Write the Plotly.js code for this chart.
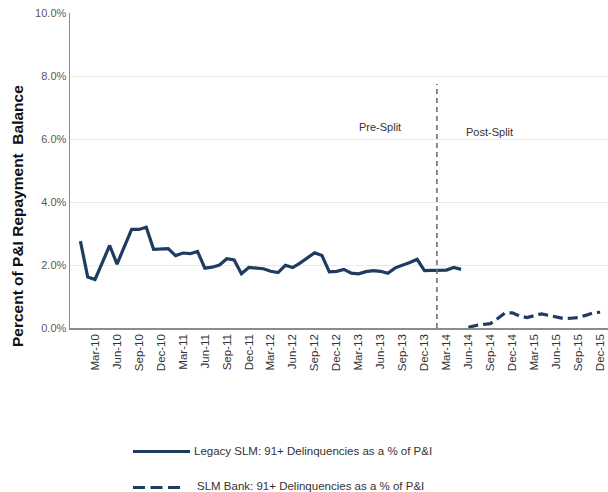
<!DOCTYPE html>
<html>
<head>
<meta charset="utf-8">
<script src="https://cdn.plot.ly/plotly-3.0.1.min.js"></script>
<style>html,body{margin:0;padding:0;background:#fff;overflow:hidden}#chart{width:608px;height:492px}</style>
</head>
<body>
<div id="chart"></div>
<script>
const months = [
  'Jan-10','Feb-10','Mar-10','Apr-10','May-10','Jun-10','Jul-10','Aug-10','Sep-10','Oct-10','Nov-10','Dec-10',
  'Jan-11','Feb-11','Mar-11','Apr-11','May-11','Jun-11','Jul-11','Aug-11','Sep-11','Oct-11','Nov-11','Dec-11',
  'Jan-12','Feb-12','Mar-12','Apr-12','May-12','Jun-12','Jul-12','Aug-12','Sep-12','Oct-12','Nov-12','Dec-12',
  'Jan-13','Feb-13','Mar-13','Apr-13','May-13','Jun-13','Jul-13','Aug-13','Sep-13','Oct-13','Nov-13','Dec-13',
  'Jan-14','Feb-14','Mar-14','Apr-14','May-14','Jun-14','Jul-14','Aug-14','Sep-14','Oct-14','Nov-14','Dec-14',
  'Jan-15','Feb-15','Mar-15','Apr-15','May-15','Jun-15','Jul-15','Aug-15','Sep-15','Oct-15','Nov-15','Dec-15'
];
const legacyMonths = months.slice(0, 53);   // Jan-10 .. May-14
const bankMonths = months.slice(53);         // Jun-14 .. Dec-15

const legacySLM = [
  2.76, 1.62, 1.54, 2.08, 2.62, 2.03, 2.55, 3.13, 3.13, 3.20, 2.50, 2.52,
  2.52, 2.30, 2.38, 2.36, 2.43, 1.90, 1.93, 2.00, 2.20, 2.16, 1.72, 1.92,
  1.90, 1.88, 1.80, 1.76, 1.99, 1.92, 2.06, 2.22, 2.39, 2.30, 1.78, 1.80,
  1.86, 1.74, 1.72, 1.79, 1.82, 1.80, 1.74, 1.91, 1.99, 2.08, 2.18, 1.82,
  1.83, 1.83, 1.84, 1.92, 1.86
];
const slmBank = [
  0.02, 0.08, 0.11, 0.14, 0.30, 0.48, 0.48, 0.38, 0.33, 0.38, 0.45, 0.40,
  0.34, 0.30, 0.31, 0.33, 0.40, 0.48, 0.50
];
const tickLabels = ['Mar-10','Jun-10','Sep-10','Dec-10','Mar-11','Jun-11','Sep-11','Dec-11',
  'Mar-12','Jun-12','Sep-12','Dec-12','Mar-13','Jun-13','Sep-13','Dec-13',
  'Mar-14','Jun-14','Sep-14','Dec-14','Mar-15','Jun-15','Sep-15','Dec-15'];
const seriesNames = ['Legacy SLM: 91+ Delinquencies as a % of P&I', 'SLM Bank: 91+ Delinquencies as a % of P&I'];
const splitLabels = ['Pre-Split', 'Post-Split'];

const navy = '#1f3b61';
const bankDash = '10px,5px';
const traces = [
  {x: legacyMonths, y: legacySLM, type: 'scatter', mode: 'lines', name: seriesNames[0],
   line: {color: navy, width: 3.2}},
  {x: bankMonths, y: slmBank, type: 'scatter', mode: 'lines', name: seriesNames[1],
   line: {color: navy, width: 3.2, dash: bankDash}}
];

// legend drawn as paper-anchored shapes + texts (keeps the plot area fixed)
const legendShapes = [
  {type: 'line', xref: 'paper', yref: 'paper', x0: 0.1171, x1: 0.2230, y0: -0.392, y1: -0.392,
   line: {color: navy, width: 3}},
  {type: 'line', xref: 'paper', yref: 'paper', x0: 0.1171, x1: 0.2045, y0: -0.506, y1: -0.506,
   line: {color: navy, width: 3, dash: '12px,5.5px'}}
];
const legendTexts = [
  {text: seriesNames[0], xref: 'paper', yref: 'paper', x: 0.2268, y: -0.392,
   xanchor: 'left', yanchor: 'middle', showarrow: false, font: {size: 11.5, color: '#333'}},
  {text: seriesNames[1], xref: 'paper', yref: 'paper', x: 0.2323, y: -0.503,
   xanchor: 'left', yanchor: 'middle', showarrow: false, font: {size: 11.5, color: '#333'}}
];

const layout = {
  width: 608, height: 492,
  margin: {l: 70, r: 0, t: 13, b: 164},
  paper_bgcolor: '#fff', plot_bgcolor: '#fff',
  font: {family: 'Liberation Sans, Arial, sans-serif', color: '#333'},
  showlegend: false,
  xaxis: {
    type: 'category', categoryorder: 'array', categoryarray: months,
    range: [-1.42, 72.07],
    tickmode: 'array', tickvals: tickLabels, ticktext: tickLabels,
    tickangle: -90, tickfont: {size: 11.5, color: '#333'},
    showgrid: false, zeroline: false,
    showline: true, linecolor: '#8c8c8c', linewidth: 1.5,
    ticks: '', fixedrange: true, automargin: false
  },
  yaxis: {
    range: [0, 10], dtick: 2, tickformat: '.1f', ticksuffix: '%',
    tickfont: {size: 11, color: '#5a5a5a'},
    showgrid: true, gridcolor: '#efebdf', gridwidth: 1,
    zeroline: false, showline: true, linecolor: '#8c8c8c', linewidth: 1.5,
    ticks: '', ticklen: 0, fixedrange: true, automargin: false
  },
  shapes: [
    {type: 'line', xref: 'x', yref: 'y', x0: 48.7, x1: 48.7, y0: 0, y1: 7.75,
     line: {color: '#666', width: 1.5, dash: '5px,4px'}}
  ].concat(legendShapes),
  annotations: [
    {text: '<b>Percent of P&I Repayment  Balance</b>', xref: 'paper', yref: 'paper',
     x: -0.117, y: 0.354, textangle: -90, showarrow: false,
     font: {size: 15.5, color: '#111'}},
    {text: splitLabels[0], xref: 'x', yref: 'y', x: 40.9, y: 6.37, showarrow: false,
     font: {size: 11, color: '#333'}},
    {text: splitLabels[1], xref: 'x', yref: 'y', x: 55.95, y: 6.23, showarrow: false,
     font: {size: 11, color: '#333'}}
  ].concat(legendTexts)
};

Plotly.newPlot('chart', traces, layout, {displayModeBar: false, staticPlot: true});
</script>
</body>
</html>
